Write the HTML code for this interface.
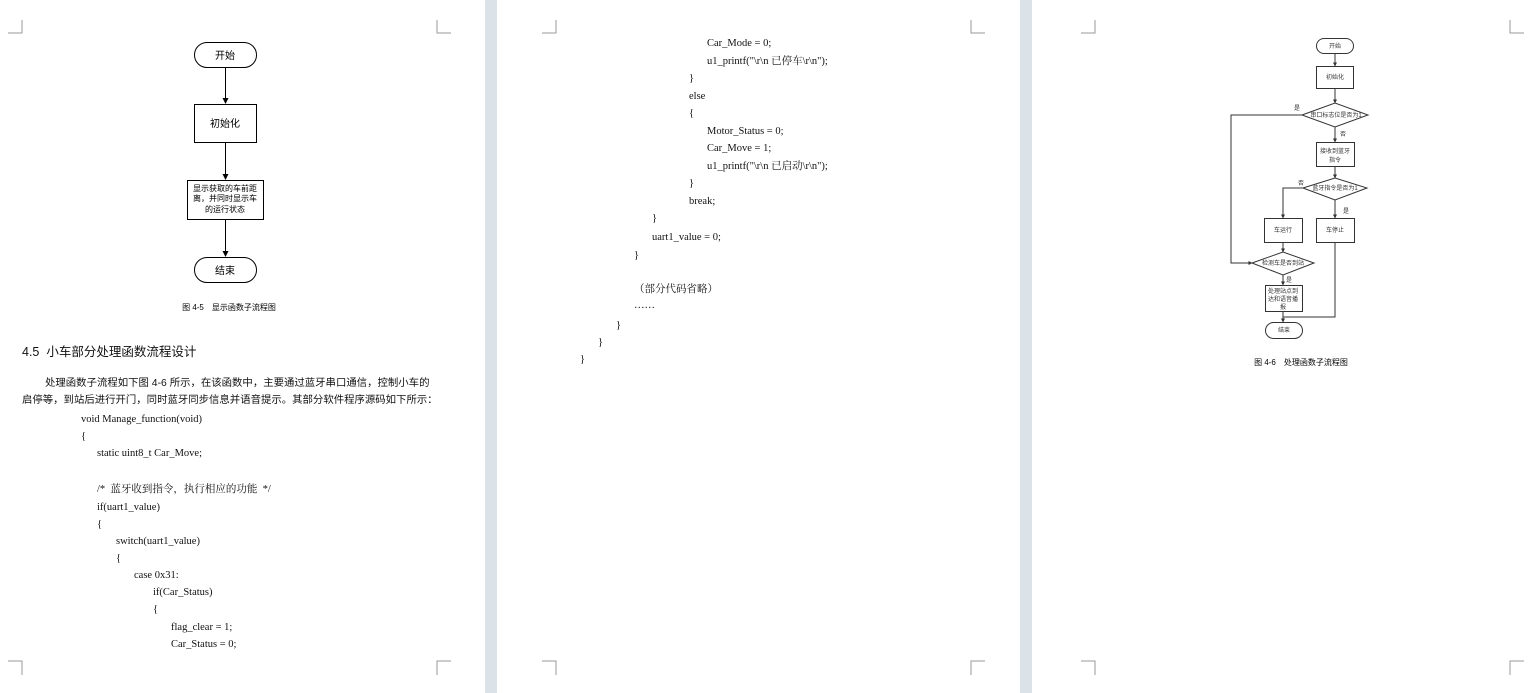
<!DOCTYPE html>
<html><head><meta charset="utf-8"><style>
body{margin:0;width:1538px;height:693px;position:relative;background:#fff;overflow:hidden;font-family:"Liberation Serif","Noto Serif CJK SC",serif;color:#111}
.t{position:absolute;white-space:nowrap;font-size:10.5px;line-height:12px;margin-top:2px}
.gap{position:absolute;top:0;height:693px;width:12px;background:#dce3e8}
.s{font-family:"Liberation Sans","Noto Sans CJK SC",sans-serif}
</style></head><body>
<div class="gap" style="left:485px"></div>
<div class="gap" style="left:1020px"></div>
<svg width="1538" height="693" style="position:absolute;left:0;top:0" font-family="Liberation Sans, Noto Sans CJK SC, sans-serif">
<defs><marker id="a" markerWidth="6" markerHeight="6" refX="5" refY="3" orient="auto"><path d="M0,0L6,3L0,6z" fill="#000"/></marker>
<marker id="b" markerWidth="4" markerHeight="4" refX="3.5" refY="2" orient="auto"><path d="M0,0L4,2L0,4z" fill="#333"/></marker></defs>
<g stroke="#999" stroke-width="1" fill="none">
<path d="M22,20V33H8M437,20V33H451M22,675V661H8M437,675V661H451"/>
<path d="M556,20V33H542M971,20V33H985M556,675V661H542M971,675V661H985"/>
<path d="M1095,20V33H1081M1510,20V33H1524M1095,675V661H1081M1510,675V661H1524"/>
</g>
<g stroke="#000" stroke-width="1" fill="none">
<rect x="194.5" y="42.5" width="62" height="25" rx="12.5"/>
<rect x="194.5" y="104.5" width="62" height="38"/>
<rect x="187.5" y="180.5" width="76" height="39"/>
<rect x="194.5" y="257.5" width="62" height="25" rx="12.5"/>
<path d="M225.5,67V103" marker-end="url(#a)"/><path d="M225.5,142V179" marker-end="url(#a)"/><path d="M225.5,219V256" marker-end="url(#a)"/>
</g>
<g font-size="10" text-anchor="middle" fill="#000">
<text x="225" y="59">开始</text><text x="225" y="127">初始化</text>
<text x="225" y="191" font-size="8">显示获取的车前距</text><text x="225" y="201" font-size="8">离，并同时显示车</text><text x="225" y="212" font-size="8">的运行状态</text>
<text x="225" y="274">结束</text>
<text x="229" y="310" font-size="8">图 4-5　显示函数子流程图</text>
</g>
<g stroke="#333" stroke-width="1" fill="none">
<rect x="1316.5" y="38.5" width="37" height="15" rx="7.5"/>
<rect x="1316.5" y="66.5" width="37" height="22"/>
<path d="M1302,115L1335,103L1368,115L1335,127Z"/>
<rect x="1316.5" y="142.5" width="38" height="24"/>
<path d="M1303,188L1335,178L1367,188L1335,200Z"/>
<rect x="1264.5" y="218.5" width="38" height="24"/>
<rect x="1316.5" y="218.5" width="38" height="24"/>
<path d="M1252,263L1283,252L1314,263L1283,275Z"/>
<rect x="1265.5" y="285.5" width="37" height="26"/>
<rect x="1265.5" y="322.5" width="37" height="16" rx="8"/>
<g marker-end="url(#b)">
<path d="M1335,53V66"/><path d="M1335,88V103"/><path d="M1335,127V142"/><path d="M1335,166V178"/><path d="M1335,200V218"/><path d="M1283,242V252"/><path d="M1283,275V285"/><path d="M1283,311V322"/>
<path d="M1302,115H1231V263H1252"/><path d="M1303,188H1283V218"/></g>
<path d="M1335,242V317H1283"/>
</g>
<g font-size="6" text-anchor="middle" fill="#333">
<text x="1335" y="48">开始</text><text x="1335" y="79">初始化</text>
<text x="1336" y="117">串口标志位是否为1</text>
<text x="1335" y="153">接收到蓝牙</text><text x="1335" y="162">指令</text>
<text x="1335" y="190">蓝牙指令是否为1</text>
<text x="1283" y="232">车运行</text><text x="1335" y="232">车停止</text>
<text x="1283" y="265">检测车是否到站</text>
<text x="1283" y="293">处理站点到</text><text x="1283" y="301">达和语音播</text><text x="1283" y="309">报</text>
<text x="1284" y="332">结束</text>
<text x="1297" y="110">是</text><text x="1343" y="136">否</text><text x="1301" y="185">否</text><text x="1346" y="213">是</text><text x="1289" y="282">是</text>
<text x="1301" y="365" font-size="8" fill="#000">图 4-6　处理函数子流程图</text>
</g>
</svg>
<div class="t s" style="left:22px;top:343px;font-size:12.5px;line-height:15px">4.5&nbsp; 小车部分处理函数流程设计</div>
<div class="t s" style="left:45px;top:376px;font-size:10.4px">处理函数子流程如下图 4-6 所示，在该函数中，主要通过蓝牙串口通信，控制小车的</div>
<div class="t s" style="left:22px;top:393px;font-size:10.4px">启停等，到站后进行开门，同时蓝牙同步信息并语音提示。其部分软件程序源码如下所示：</div>
<div class="t" style="left:81px;top:412px">void Manage_function(void)</div>
<div class="t" style="left:81px;top:429px">{</div>
<div class="t" style="left:97px;top:446px">static uint8_t Car_Move;</div>
<div class="t" style="left:97px;top:482px">/*&nbsp; 蓝牙收到指令，执行相应的功能&nbsp; */</div>
<div class="t" style="left:97px;top:500px">if(uart1_value)</div>
<div class="t" style="left:97px;top:517px">{</div>
<div class="t" style="left:116px;top:534px">switch(uart1_value)</div>
<div class="t" style="left:116px;top:551px">{</div>
<div class="t" style="left:134px;top:568px">case 0x31:</div>
<div class="t" style="left:153px;top:585px">if(Car_Status)</div>
<div class="t" style="left:153px;top:602px">{</div>
<div class="t" style="left:171px;top:620px">flag_clear = 1;</div>
<div class="t" style="left:171px;top:637px">Car_Status = 0;</div>
<div class="t" style="left:707px;top:36px">Car_Mode = 0;</div>
<div class="t" style="left:707px;top:54px">u1_printf("\r\n 已停车\r\n");</div>
<div class="t" style="left:689px;top:71px">}</div>
<div class="t" style="left:689px;top:89px">else</div>
<div class="t" style="left:689px;top:106px">{</div>
<div class="t" style="left:707px;top:124px">Motor_Status = 0;</div>
<div class="t" style="left:707px;top:141px">Car_Move = 1;</div>
<div class="t" style="left:707px;top:159px">u1_printf("\r\n 已启动\r\n");</div>
<div class="t" style="left:689px;top:176px">}</div>
<div class="t" style="left:689px;top:194px">break;</div>
<div class="t" style="left:652px;top:211px">}</div>
<div class="t" style="left:652px;top:230px">uart1_value = 0;</div>
<div class="t" style="left:634px;top:248px">}</div>
<div class="t" style="left:634px;top:282px">（部分代码省略）</div>
<div class="t" style="left:634px;top:298px">……</div>
<div class="t" style="left:616px;top:318px">}</div>
<div class="t" style="left:598px;top:335px">}</div>
<div class="t" style="left:580px;top:352px">}</div>
</body></html>
